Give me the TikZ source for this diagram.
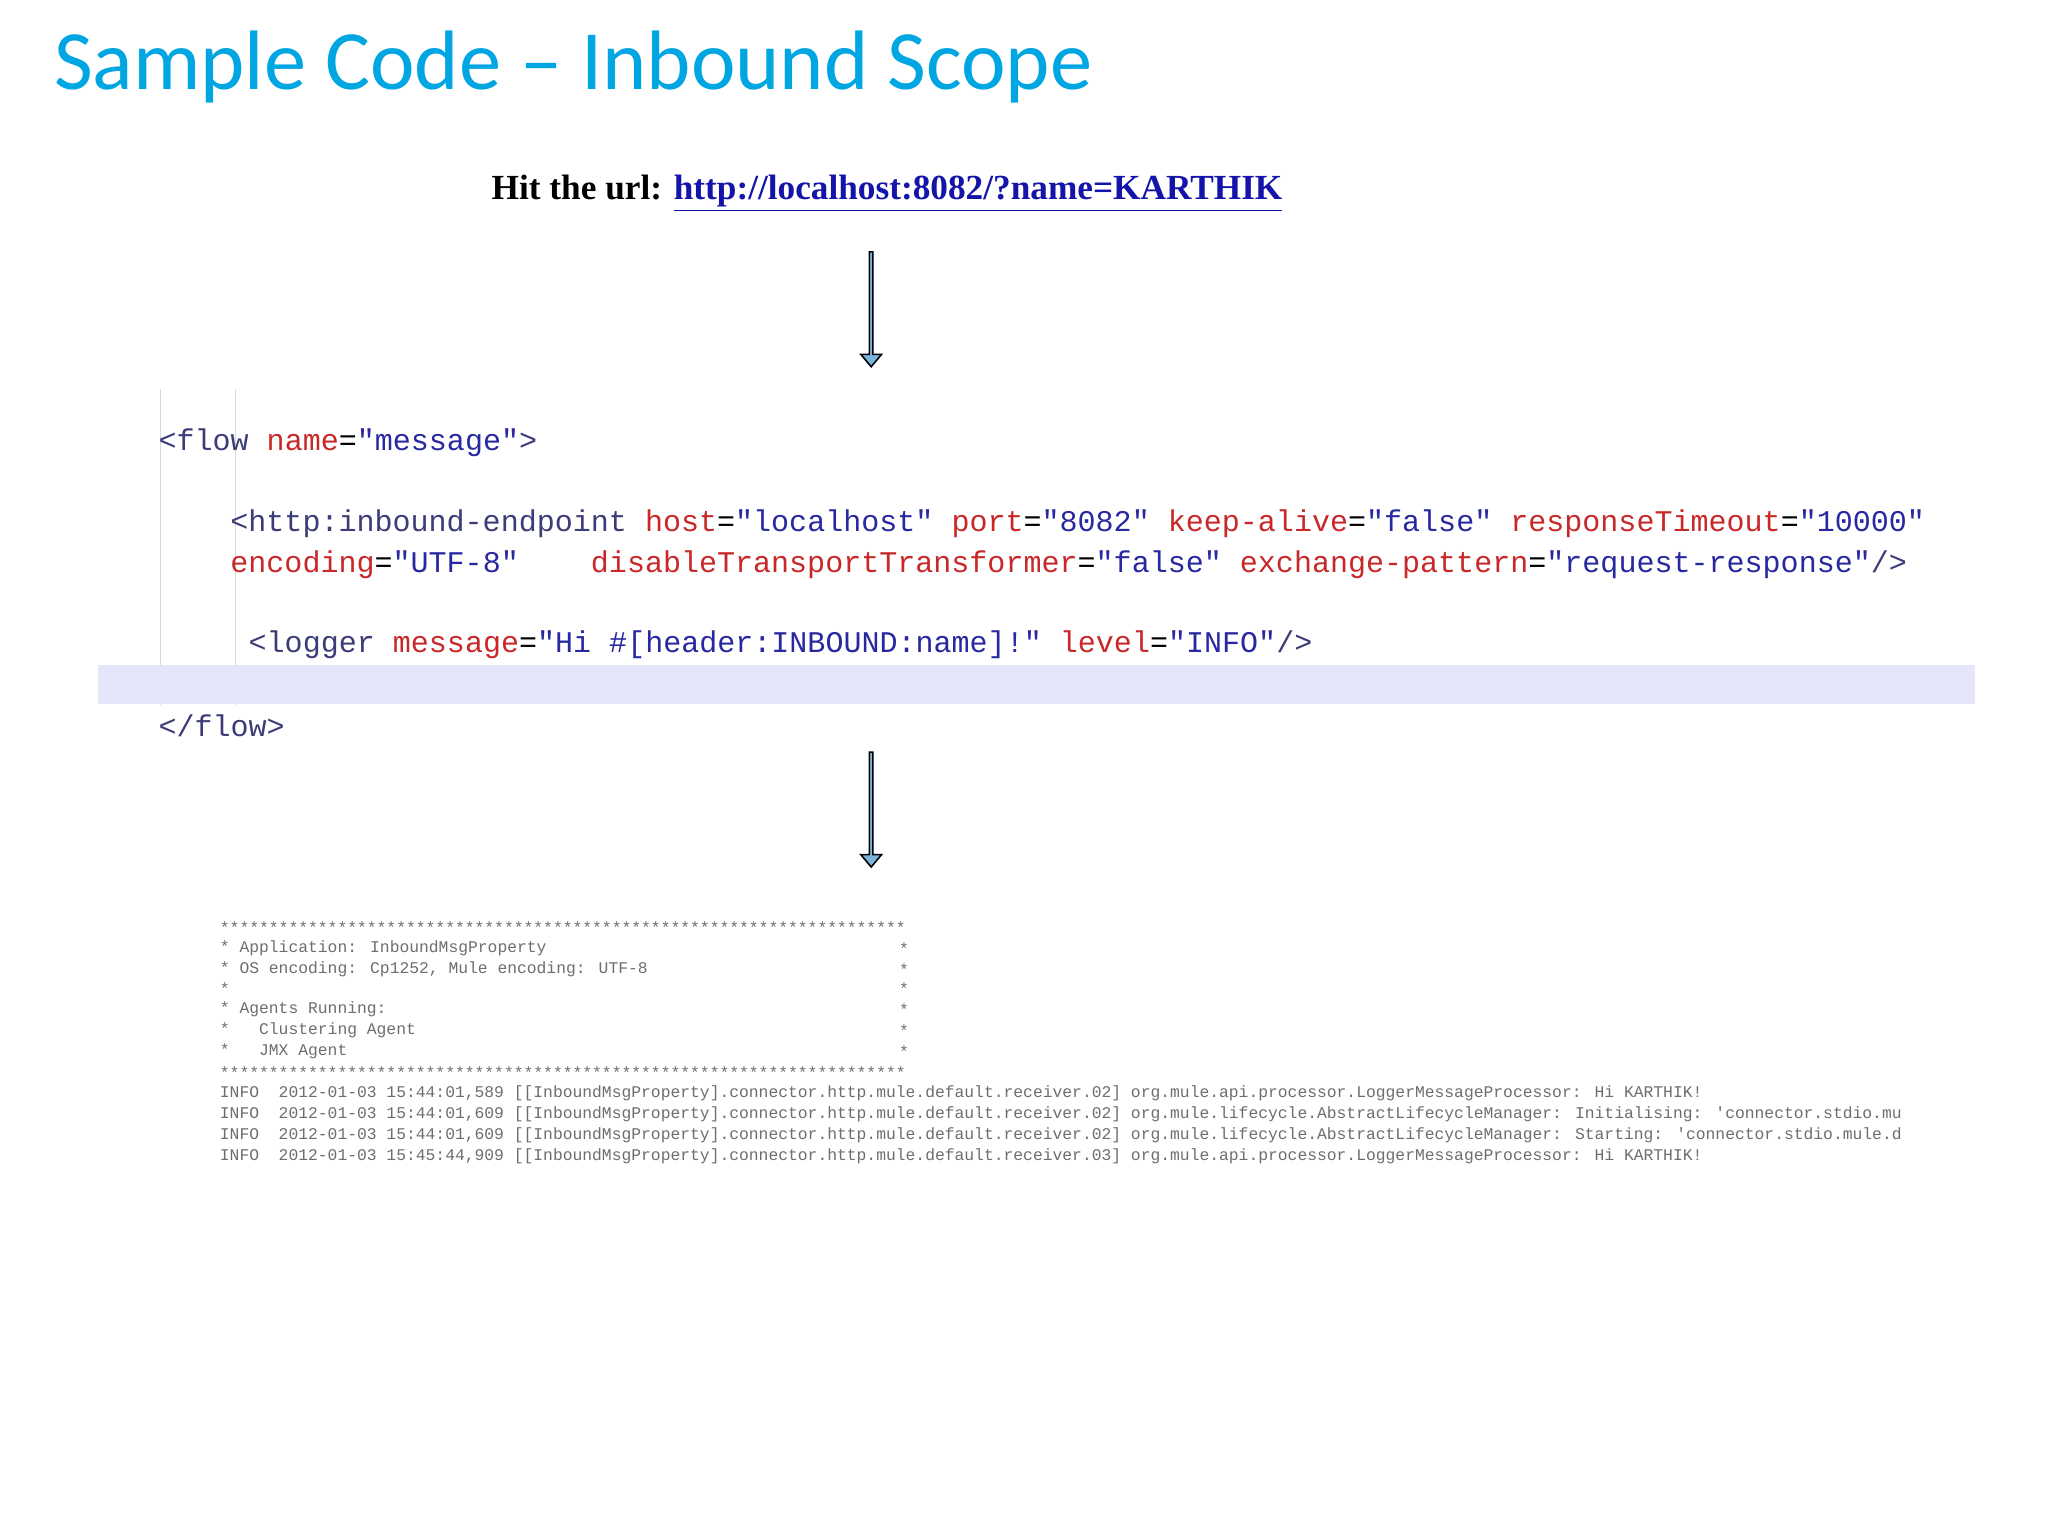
\documentclass[tikz,border=0pt]{standalone}
\usepackage{fontspec}
\setmainfont{Liberation Serif}
\newfontfamily\titlefont{Carlito}
\newfontfamily\codefont{Liberation Mono}
\usetikzlibrary{shapes.arrows}
\definecolor{ttl}{RGB}{0,166,226}
\definecolor{kw}{RGB}{60,60,120}
\definecolor{at}{RGB}{200,40,40}
\definecolor{val}{RGB}{40,40,160}
\definecolor{lnk}{RGB}{20,20,170}
\definecolor{band}{RGB}{230,230,250}
\definecolor{logc}{RGB}{110,110,110}
\definecolor{arr}{RGB}{120,180,220}
\begin{document}
\begin{tikzpicture}[x=0.5pt,y=-0.5pt,
  code/.style={anchor=west,inner sep=0,font=\codefont\fontsize{11.5}{13}\selectfont},
  logl/.style={anchor=west,inner sep=0,text=logc,font=\codefont\fontsize{6.25}{7}\selectfont},
  downarrow/.style={single arrow,draw=black,fill=arr,line width=0.6pt,minimum width=8pt,single arrow head extend=1.5pt,single arrow tip angle=80,minimum height=44pt,shape border rotate=270,inner sep=0}]
\useasboundingbox (0,0) rectangle (1568,1176);
\fill[white] (0,0) rectangle (1568,1176);
\node[anchor=west,inner sep=0,text=ttl,font=\titlefont\fontsize{32.3}{38}\selectfont] (title) at (41,51) {Sample Code \textendash{} Inbound Scope};
\node[anchor=west,inner sep=0,font=\fontsize{13.5}{16}\selectfont\bfseries] (url) at (376,148) {Hit the url: \textcolor{lnk}{\underline{http://localhost:8082/?name=KARTHIK}}};
\node[downarrow] (a1) at (667,236) {};
% code
\draw[gray!30] (123,298) -- (123,540) (180,298) -- (180,540);
\fill[band] (75,509) rectangle (1512,539);
\node[code] (c1) at (121,339) {\textcolor{kw}{<flow} \textcolor{at}{name}=\textcolor{val}{"message"}\textcolor{kw}{>}};
\node[code] (c2) at (176,401) {\textcolor{kw}{<http:inbound-endpoint} \textcolor{at}{host}=\textcolor{val}{"localhost"} \textcolor{at}{port}=\textcolor{val}{"8082"} \textcolor{at}{keep-alive}=\textcolor{val}{"false"} \textcolor{at}{responseTimeout}=\textcolor{val}{"10000"}};
\node[code] (c3) at (176,432) {\textcolor{at}{encoding}=\textcolor{val}{"UTF-8"}~~~~\textcolor{at}{disableTransportTransformer}=\textcolor{val}{"false"} \textcolor{at}{exchange-pattern}=\textcolor{val}{"request-response"}\textcolor{kw}{/>}};
\node[code] (c4) at (190,494) {\textcolor{kw}{<logger} \textcolor{at}{message}=\textcolor{val}{"Hi \#[header:INBOUND:name]!"} \textcolor{at}{level}=\textcolor{val}{"INFO"}\textcolor{kw}{/>}};
\node[code] (c5) at (121,556) {\textcolor{kw}{</flow>}};
\node[downarrow] (a2) at (667,619) {};
% log
\node[logl] (l0) at (168,710) {**********************************************************************};
\node[logl] (l1) at (168,726) {* Application: InboundMsgProperty};
\node[logl] (l2) at (168,742) {* OS encoding: Cp1252, Mule encoding: UTF-8};
\node[logl] (l3) at (168,757) {*};
\node[logl] (l4) at (168,773) {* Agents Running:};
\node[logl] (l5) at (168,789) {*~~~Clustering Agent};
\node[logl] (l6) at (168,805) {*~~~JMX Agent};
\foreach \yy [count=\i] in {726,742,757,773,789,805} \node[logl] (s\i) at (688,\yy) {*};
\node[logl] (l7) at (168,821) {**********************************************************************};
\node[logl] (i1) at (168,837) {INFO~~2012-01-03 15:44:01,589 [[InboundMsgProperty].connector.http.mule.default.receiver.02] org.mule.api.processor.LoggerMessageProcessor: Hi KARTHIK!};
\node[logl] (i2) at (168,853) {INFO~~2012-01-03 15:44:01,609 [[InboundMsgProperty].connector.http.mule.default.receiver.02] org.mule.lifecycle.AbstractLifecycleManager: Initialising: 'connector.stdio.mu};
\node[logl] (i3) at (168,869) {INFO~~2012-01-03 15:44:01,609 [[InboundMsgProperty].connector.http.mule.default.receiver.02] org.mule.lifecycle.AbstractLifecycleManager: Starting: 'connector.stdio.mule.d};
\node[logl] (i4) at (168,885) {INFO~~2012-01-03 15:45:44,909 [[InboundMsgProperty].connector.http.mule.default.receiver.03] org.mule.api.processor.LoggerMessageProcessor: Hi KARTHIK!};
\end{tikzpicture}
\end{document}
